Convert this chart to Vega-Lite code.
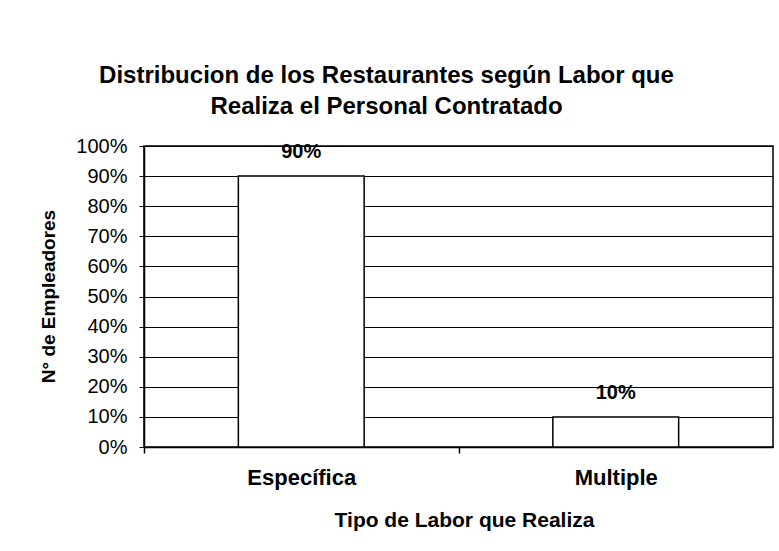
{
  "$schema": "https://vega.github.io/schema/vega-lite/v6.json",
  "width": 629,
  "height": 301,
  "autosize": {"type": "none"},
  "padding": {"left": 144, "top": 146, "right": 6, "bottom": 104},
  "background": "white",
  "title": {
    "text": ["Distribucion de los Restaurantes según Labor que", "Realiza el Personal Contratado"],
    "font": "Liberation Sans",
    "fontSize": 24,
    "fontWeight": "bold",
    "color": "black",
    "anchor": "middle",
    "lineHeight": 31,
    "dx": -72,
    "offset": 17
  },
  "data": {
    "values": [
      {"tipo": "Específica", "pct": 0.9, "etiqueta": "90%"},
      {"tipo": "Multiple", "pct": 0.1, "etiqueta": "10%"}
    ]
  },
  "encoding": {
    "x": {
      "field": "tipo",
      "type": "nominal",
      "sort": null,
      "scale": {"paddingInner": 0.6, "paddingOuter": 0.3},
      "axis": {
        "title": "Tipo de Labor que Realiza",
        "titleFont": "Liberation Sans",
        "titleFontSize": 21,
        "titleFontWeight": "bold",
        "titleColor": "black",
        "titleX": 320,
        "titleY": 73,
        "titleBaseline": "middle",
        "titleAnchor": null,
        "titleAlign": "center",
        "labelAngle": 0,
        "labelFont": "Liberation Sans",
        "labelFontSize": 22,
        "labelFontWeight": "bold",
        "labelColor": "black",
        "labelPadding": 14,
        "ticks": true,
        "bandPosition": 0,
        "tickOffset": -94.35,
        "labelOffset": 94.35,
        "tickSize": 6,
        "tickWidth": 1.5,
        "tickColor": "black",
        "domainColor": "black",
        "domainWidth": 1.5,
        "grid": false
      }
    },
    "y": {
      "field": "pct",
      "type": "quantitative",
      "scale": {"domain": [0, 1]},
      "axis": {
        "title": "N° de Empleadores",
        "titleFont": "Liberation Sans",
        "titleFontSize": 19,
        "titleFontWeight": "bold",
        "titleColor": "black",
        "titleX": -96,
        "titleY": 150,
        "titleAngle": -90,
        "titleAlign": "center",
        "titleBaseline": "middle",
        "titleAnchor": null,
        "values": [0, 0.1, 0.2, 0.3, 0.4, 0.5, 0.6, 0.7, 0.8, 0.9, 1],
        "format": ".0%",
        "labelFont": "Liberation Sans",
        "labelFontSize": 20,
        "labelColor": "black",
        "labelPadding": 12,
        "tickSize": 5,
        "tickColor": "black",
        "domainColor": "black",
        "domainWidth": 1.5,
        "grid": true,
        "gridColor": "black",
        "gridWidth": 1,
        "gridOpacity": 1
      }
    }
  },
  "layer": [
    {
      "mark": {"type": "bar", "fill": "white", "stroke": "black", "strokeWidth": 1.5}
    },
    {
      "mark": {
        "type": "text",
        "font": "Liberation Sans",
        "fontSize": 20,
        "fontWeight": "bold",
        "color": "black",
        "baseline": "bottom",
        "dy": -14
      },
      "encoding": {"text": {"field": "etiqueta"}}
    }
  ],
  "config": {
    "view": {"stroke": "black", "strokeWidth": 1.5}
  }
}
